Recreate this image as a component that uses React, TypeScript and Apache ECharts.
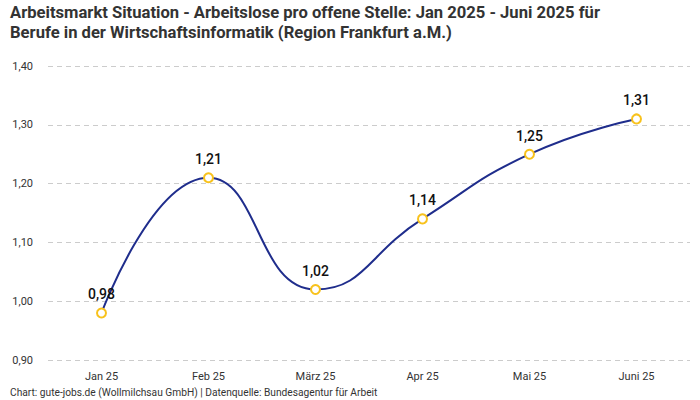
import React, { useEffect, useRef } from "react";
import * as echarts from "echarts";

const categories = ["Jan 25", "Feb 25", "März 25", "Apr 25", "Mai 25", "Juni 25"];
const values = [0.98, 1.21, 1.02, 1.14, 1.25, 1.31];
const titleLines = [
  "Arbeitsmarkt Situation - Arbeitslose pro offene Stelle: Jan 2025 - Juni 2025 für",
  "Berufe in der Wirtschaftsinformatik (Region Frankfurt a.M.)",
];
const footer = "Chart: gute-jobs.de (Wollmilchsau GmbH) | Datenquelle: Bundesagentur für Arbeit";

const fmt = (v: number) => v.toFixed(2).replace(".", ",");

export default function App() {
  const ref = useRef<HTMLDivElement>(null);
  useEffect(() => {
    if (!ref.current) return;
    const chart = echarts.init(ref.current, undefined, { renderer: "svg" });
    chart.setOption({
      animation: false,
      backgroundColor: "#ffffff",
      title: {
        text: titleLines.join("\n"),
        left: 10,
        top: 2,
        padding: 0,
        textStyle: {
          fontFamily: "Roboto, sans-serif",
          fontSize: 16.6,
          fontWeight: "bold",
          color: "#333333",
          lineHeight: 20,
        },
      },
      graphic: [
        {
          type: "text",
          left: 10,
          top: 387,
          style: {
            text: footer,
            font: "10.2px Roboto, sans-serif",
            fill: "#333333",
          },
        },
      ],
      grid: { left: 48, right: 10, top: 66, bottom: 40 },
      xAxis: {
        type: "category",
        data: categories,
        boundaryGap: true,
        axisLine: { show: false },
        axisTick: { show: false },
        axisLabel: { color: "#333333", fontSize: 11, margin: 11, fontFamily: "Roboto, sans-serif" },
      },
      yAxis: {
        type: "value",
        min: 0.9,
        max: 1.4,
        interval: 0.1,
        axisLabel: {
          color: "#333333",
          fontSize: 11,
          margin: 15,
          fontFamily: "Roboto, sans-serif",
          formatter: (v: number) => fmt(v),
        },
        splitLine: { lineStyle: { color: "#cccccc", type: [5, 4] } },
      },
      series: [
        {
          type: "line",
          data: values,
          smooth: 0.5,
          lineStyle: { color: "#1f2d8c", width: 2 },
          itemStyle: { color: "#ffffff", borderColor: "#f8c21c", borderWidth: 2 },
          symbol: "circle",
          symbolSize: 9,
          label: {
            show: true,
            position: "top",
            distance: 6,
            color: "#111111",
            fontSize: 14,
            fontWeight: 500,
            fontFamily: "Roboto, sans-serif",
            formatter: (p: any) => fmt(p.value),
          },
        },
      ],
    });
    return () => chart.dispose();
  }, []);
  return (
    <div
      ref={ref}
      style={{ position: "absolute", left: 0, top: 0, width: 700, height: 400 }}
    />
  );
}
